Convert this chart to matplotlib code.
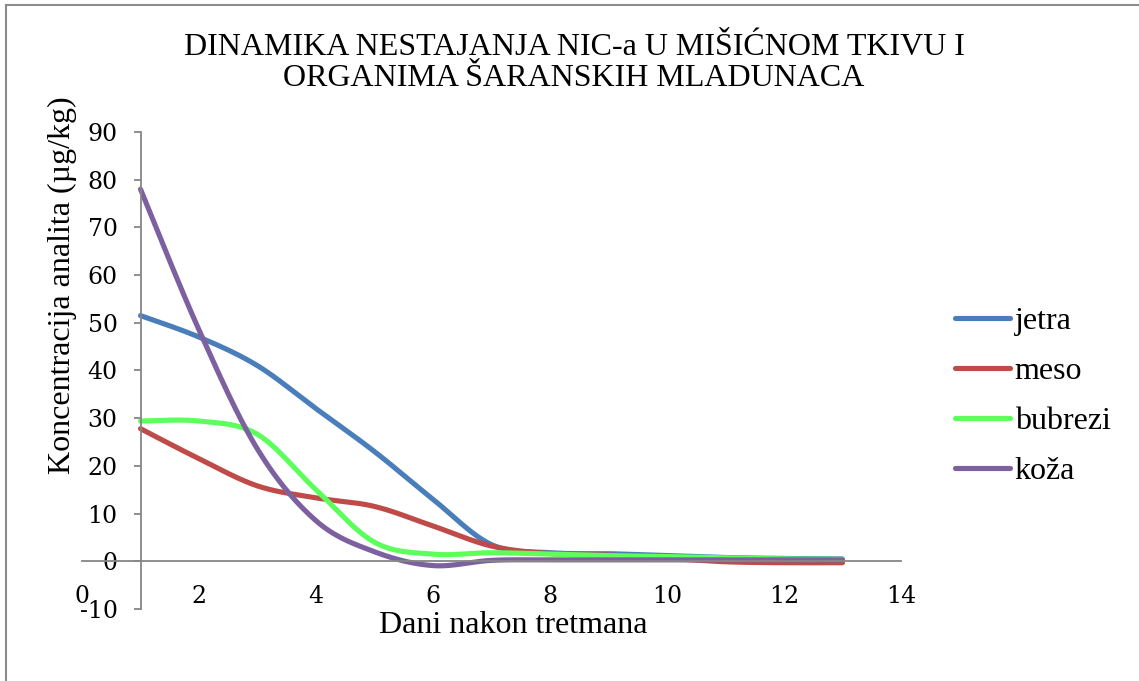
import numpy as np
import matplotlib.pyplot as plt
from matplotlib.lines import Line2D

plt.rcParams['font.family'] = ['Liberation Serif', 'DejaVu Serif']
plt.rcParams['axes.unicode_minus'] = False

# dani nakon tretmana i koncentracije (µg/kg)
dani = [1, 2, 3, 4, 5, 6, 7, 8, 9, 10, 11, 12, 13]
jetra = [51.5, 47.0, 41.0, 32.0, 23.0, 13.0, 3.5, 1.8, 1.6, 1.2, 0.8, 0.6, 0.5]
meso = [27.8, 21.5, 15.8, 13.3, 11.5, 7.4, 3.2, 1.6, 1.3, 0.6, -0.1, -0.3, -0.3]
bubrezi = [29.4, 29.4, 26.6, 15.0, 4.0, 1.5, 1.8, 1.5, 1.2, 1.0, 0.7, 0.5, 0.4]
koza = [78.0, 48.5, 23.5, 8.5, 2.0, -0.9, 0.2, 0.3, 0.3, 0.3, 0.3, 0.3, 0.3]

serije = [("jetra", jetra, "#4a7ebb"),
          ("meso", meso, "#be4b48"),
          ("bubrezi", bubrezi, "#5cff5c"),
          ("koža", koza, "#7d60a0")]


def glatko(x, y, n=40):
    # Catmull-Rom kroz tacke (kao "smoothed line" u Excelu)
    p = np.column_stack([x, y]).astype(float)
    p = np.vstack([p[0], p, p[-1]])
    t = np.linspace(0, 1, n)[:, None]
    out = []
    for i in range(1, len(p) - 2):
        p0, p1, p2, p3 = p[i - 1], p[i], p[i + 1], p[i + 2]
        seg = 0.5 * ((2 * p1) + (-p0 + p2) * t
                     + (2 * p0 - 5 * p1 + 4 * p2 - p3) * t ** 2
                     + (-p0 + 3 * p1 - 3 * p2 + p3) * t ** 3)
        out.append(seg if i == 1 else seg[1:])
    out = np.vstack(out)
    return out[:, 0], out[:, 1]


fig = plt.figure(figsize=(11.39, 6.81), dpi=100)
ax = fig.add_axes([0.072, 0.1057, 0.719, 0.7006])

for ime, vrijednosti, boja in serije:
    xs, ys = glatko(dani, vrijednosti)
    ax.plot(xs, ys, color=boja, lw=3.7, label=ime, solid_capstyle='round')

ax.set_xlim(0, 14)
ax.set_ylim(-10, 90)
ax.set_xticks(range(0, 15, 2))
ax.set_yticks(range(-10, 91, 10))

siva = '#868686'
for s in ['top', 'right']:
    ax.spines[s].set_visible(False)
ax.spines['left'].set_position(('data', 1))
ax.spines['bottom'].set_position(('data', 0))
ax.spines['left'].set_color(siva)
ax.spines['bottom'].set_color(siva)
ax.spines['left'].set_linewidth(1.3)
ax.spines['bottom'].set_linewidth(1.3)

ax.tick_params(axis='x', length=0, pad=17, labelsize=17)
ax.tick_params(axis='y', direction='out', length=5, width=1.3, color=siva,
               pad=11.5, labelsize=17)
for lbl in ax.get_xticklabels() + ax.get_yticklabels():
    lbl.set_fontfamily('DejaVu Serif')

fig.text(0.504, 0.9075,
         "DINAMIKA NESTAJANJA NIC-a U MIŠIĆNOM TKIVU I\nORGANIMA ŠARANSKIH MLADUNACA",
         ha='center', va='center', fontsize=23, linespacing=1.07)
fig.text(62 / 1139, 0.581, "Koncentracija analita (µg/kg)", rotation=90,
         ha='center', va='center', fontsize=23)
fig.text(513 / 1139, 0.081, "Dani nakon tretmana", ha='center', va='center',
         fontsize=23)

ax.legend(loc='center left', bbox_to_anchor=(955 / 1139, 0.418),
          bbox_transform=fig.transFigure, frameon=False, fontsize=23,
          handlelength=1.72, handletextpad=0.15, labelspacing=0.65,
          borderpad=0, borderaxespad=0)

# okvir oko grafikona
fig.add_artist(Line2D([6 / 1139, 6 / 1139], [0, 1 - 4.5 / 681],
                      transform=fig.transFigure, color='#8c8c8c', lw=1.5))
fig.add_artist(Line2D([6 / 1139, 1], [1 - 4.5 / 681, 1 - 4.5 / 681],
                      transform=fig.transFigure, color='#8c8c8c', lw=1.5))

fig.savefig('out.png', dpi=100)
